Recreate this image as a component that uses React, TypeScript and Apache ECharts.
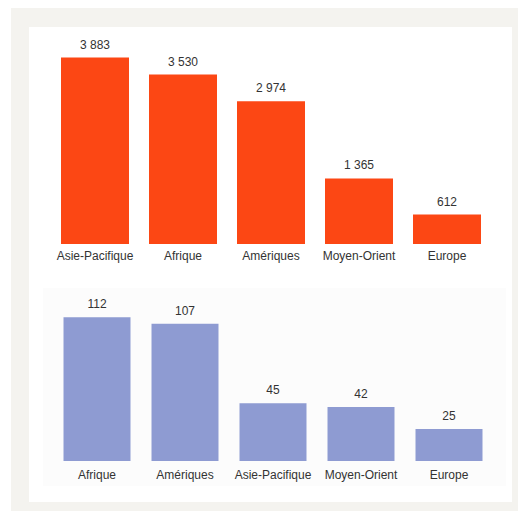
import React, { useEffect, useRef } from "react";
import * as echarts from "echarts";

const topCategories = ["Asie-Pacifique", "Afrique", "Amériques", "Moyen-Orient", "Europe"];
const topValues = [3883, 3530, 2974, 1365, 612];
const bottomCategories = ["Afrique", "Amériques", "Asie-Pacifique", "Moyen-Orient", "Europe"];
const bottomValues = [112, 107, 45, 42, 25];

const fmt = (v: number) => String(v).replace(/\B(?=(\d{3})+(?!\d))/g, " ");
const FONT = "'Liberation Sans', Arial, Helvetica, sans-serif";

export default function App() {
  const ref = useRef<HTMLDivElement>(null);
  useEffect(() => {
    if (!ref.current) return;
    const chart = echarts.init(ref.current, null, { renderer: "svg" });
    const labelStyle = { color: "#333", fontSize: 12, fontFamily: FONT };
    chart.setOption({
      animation: false,
      backgroundColor: "#ffffff",
      graphic: [
        { type: "rect", silent: true, z: -10, shape: { x: 11, y: 8, width: 507, height: 503 }, style: { fill: "#f4f3ef" } },
        { type: "rect", silent: true, z: -9, shape: { x: 29, y: 27, width: 483, height: 475 }, style: { fill: "#ffffff" } },
        { type: "rect", silent: true, z: -8, shape: { x: 43, y: 288, width: 463, height: 198 }, style: { fill: "#fcfcfc" } },
      ],
      grid: [
        { left: 51, width: 440, top: 52, height: 192 },
        { left: 53, width: 440, top: 307, height: 154 },
      ],
      xAxis: [
        {
          gridIndex: 0, type: "category", data: topCategories,
          axisLine: { show: false }, axisTick: { show: false },
          axisLabel: { ...labelStyle, margin: 6, interval: 0 },
        },
        {
          gridIndex: 1, type: "category", data: bottomCategories,
          axisLine: { show: false }, axisTick: { show: false },
          axisLabel: { ...labelStyle, margin: 8, interval: 0 },
        },
      ],
      yAxis: [
        { gridIndex: 0, type: "value", min: 0, max: 4000, show: false, splitLine: { show: false } },
        { gridIndex: 1, type: "value", min: 0, max: 120, show: false, splitLine: { show: false } },
      ],
      series: [
        {
          type: "bar", xAxisIndex: 0, yAxisIndex: 0, data: topValues, barWidth: 68,
          itemStyle: { color: "#fc4714" },
          label: { show: true, position: "top", distance: 7, ...labelStyle, formatter: (p: any) => fmt(p.value) },
        },
        {
          type: "bar", xAxisIndex: 1, yAxisIndex: 1, data: bottomValues, barWidth: 67,
          itemStyle: { color: "#8e9bd2" },
          label: { show: true, position: "top", distance: 7, ...labelStyle, formatter: (p: any) => fmt(p.value) },
        },
      ],
    });
    return () => chart.dispose();
  }, []);
  return (
    <div
      ref={ref}
      style={{ position: "absolute", left: 0, top: 0, width: 518, height: 511 }}
    />
  );
}
